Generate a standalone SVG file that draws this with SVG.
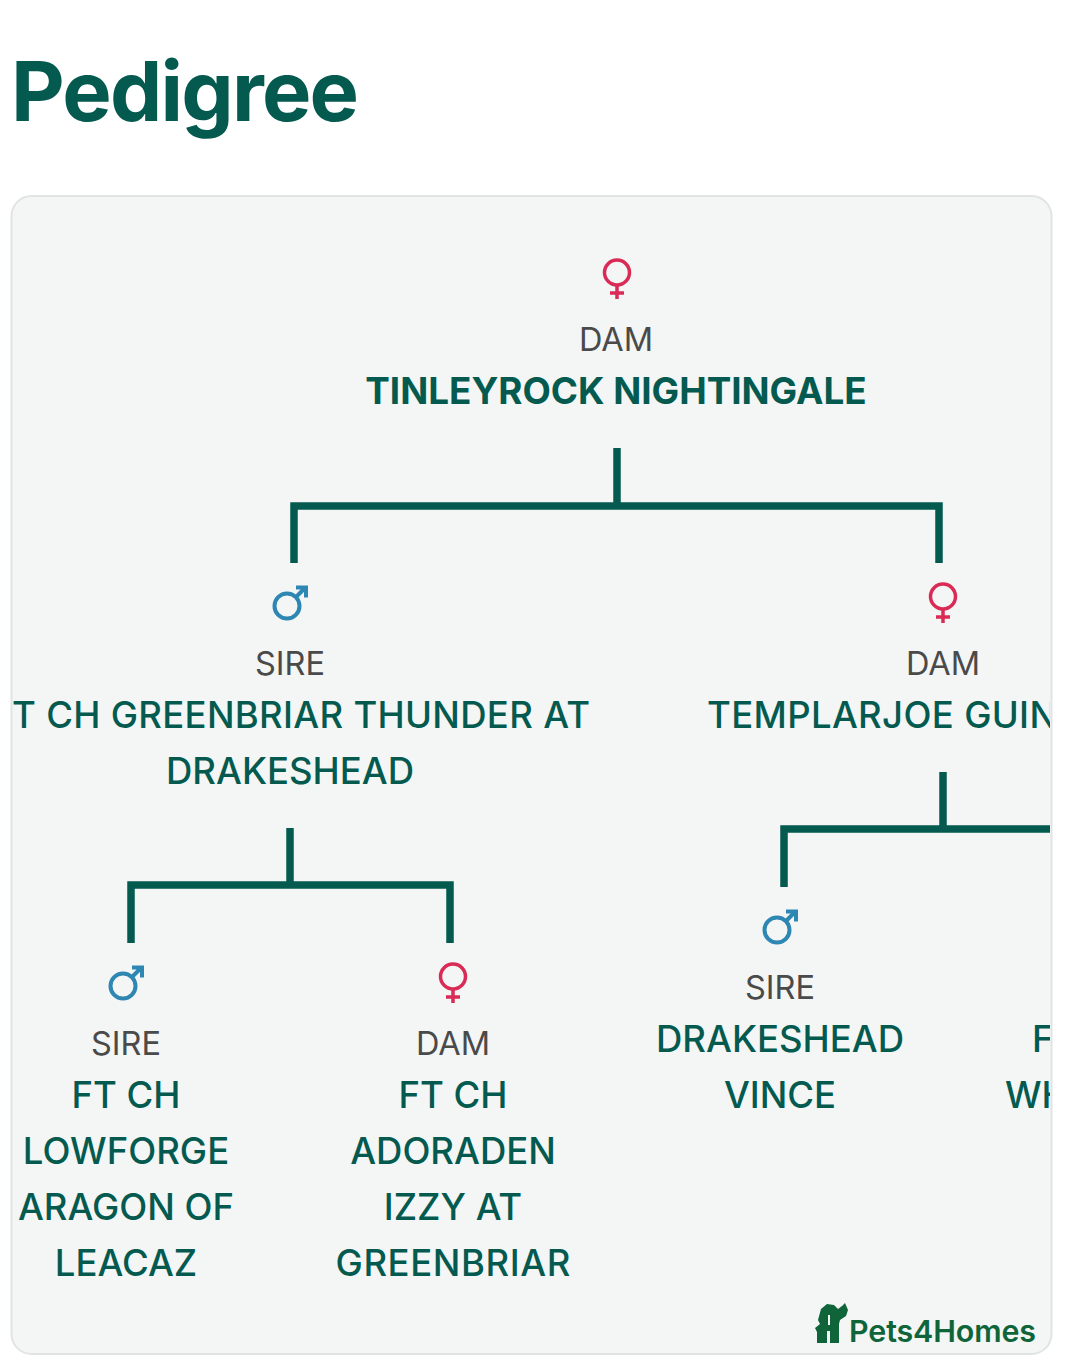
<svg xmlns="http://www.w3.org/2000/svg" width="1080" height="1368" viewBox="0 0 1080 1368">
<style>
text{font-family:Inter,"Liberation Sans",sans-serif;text-anchor:middle}
.title{font-size:83px;font-weight:700;fill:#055a50;text-anchor:start}
.role{font-size:32.500px;fill:#4a4a4a}
.name{font-size:36.500px;font-weight:500;fill:#055a50}
.root{font-size:36.800px;font-weight:700;fill:#055a50}
.logo{font-size:30.400px;font-weight:600;fill:#0f6539;text-anchor:start;letter-spacing:-.1px}
.conn{fill:none;stroke:#055a50;stroke-width:7.500}
.f{fill:none;stroke:#d92b55;stroke-width:3.500}
.m{fill:none;stroke:#2e86b3;stroke-width:4}
</style>
<defs>
<clipPath id="panel"><rect x="12" y="196" width="1038" height="1158" rx="20"/></clipPath>
<g id="female"><circle cx="0" cy="-3.500" r="12.500" class="f"/><path d="M0 9V23M-7 17H7" class="f"/></g>
<g id="male"><circle cx="-6" cy="3" r="12.500" class="m"/><path d="M3 -6L12 -15M3 -15.500H13V-5.500" class="m"/></g>
</defs>
<rect width="1080" height="1368" fill="#fff"/>
<text class="title" x="11" y="121" textLength="348">Pedigree</text>
<rect x="11.500" y="196" width="1040" height="1158" rx="20" fill="#f3f6f5" stroke="#e2e4e4" stroke-width="2"/>
<g clip-path="url(#panel)">
<g id="connectors">
<path class="conn" d="M617 448V506M294 563V506H939V563"/>
<path class="conn" d="M290 828V885M131 943V885H450V943"/>
<path class="conn" d="M943 772V829M784 887V829H1060"/>
</g>
<g id="node-root"><use href="#female" x="617" y="276"/><text class="role" x="616" y="351">DAM</text><text class="root" x="616" y="404">TINLEYROCK NIGHTINGALE</text></g>
<g id="node-sire"><use href="#male" x="293" y="603"/><text class="role" x="290" y="675">SIRE</text><text class="name" x="12" y="728" style="text-anchor:start" textLength="578">T CH GREENBRIAR THUNDER AT</text><text class="name" x="290" y="784">DRAKESHEAD</text></g>
<g id="node-dam"><use href="#female" x="943" y="600"/><text class="role" x="943" y="675">DAM</text><text class="name" x="707" y="728" style="text-anchor:start" textLength="350">TEMPLARJOE GUIN</text></g>
<g id="node-sire-sire"><use href="#male" x="129" y="983"/><text class="role" x="126" y="1055">SIRE</text><text class="name" x="126" y="1108">FT CH</text><text class="name" x="126" y="1164">LOWFORGE</text><text class="name" x="126" y="1220">ARAGON OF</text><text class="name" x="126" y="1276">LEACAZ</text></g>
<g id="node-sire-dam"><use href="#female" x="453" y="980"/><text class="role" x="453" y="1055">DAM</text><text class="name" x="453" y="1108">FT CH</text><text class="name" x="453" y="1164">ADORADEN</text><text class="name" x="453" y="1220">IZZY AT</text><text class="name" x="453" y="1276" textLength="235">GREENBRIAR</text></g>
<g id="node-dam-sire"><use href="#male" x="783" y="927"/><text class="role" x="780" y="999">SIRE</text><text class="name" x="780" y="1052">DRAKESHEAD</text><text class="name" x="780" y="1108">VINCE</text></g>
<g id="node-dam-dam"><text class="name" x="1032" y="1052" style="text-anchor:start">F</text><text class="name" x="1005" y="1108" style="text-anchor:start">WH</text></g>
</g>
<g id="logo"><path fill="#0f6539" fill-rule="evenodd" d="M817 1343V1332L815 1328L820 1324L818 1320L821 1309L827 1304L834 1305L838 1309L842 1306L845 1303L848 1310L846 1316L840 1320L839 1324V1343H830V1331H827V1343ZM828 1315V1325H830V1315Z"/><text class="logo" x="849" y="1342">Pets4Homes</text></g>
</svg>
